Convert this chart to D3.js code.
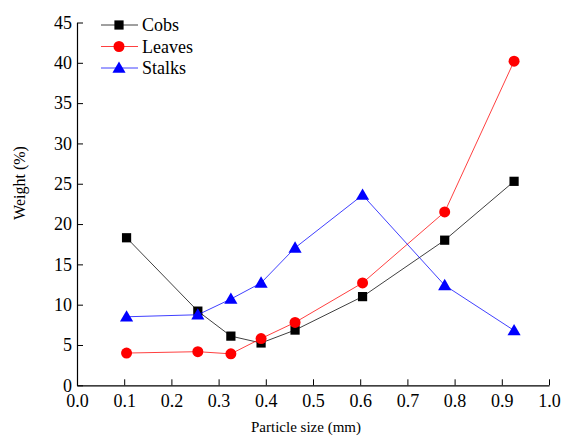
<!DOCTYPE html>
<html>
<head>
<meta charset="utf-8">
<script src="https://cdn.jsdelivr.net/npm/d3@7"></script>
<style>
  html, body { margin: 0; padding: 0; background: #fff; }
  svg { display: block; }
  text { font-family: "Liberation Serif", "Times New Roman", serif; fill: #000; }
</style>
</head>
<body>
<svg id="chart" width="565" height="436"></svg>
<script>
// Data
const particleSize = [0.105, 0.256, 0.326, 0.39, 0.462, 0.605, 0.779, 0.926];
const cobs   = [18.3, 9.2, 6.1, 5.25, 6.85, 11.0, 18.0, 25.3];
const leaves = [4.0, 4.17, 3.9, 5.8, 7.8, 12.7, 21.5, 40.2];
const stalks = [8.5, 8.75, 10.7, 12.7, 17.05, 23.6, 12.4, 6.8];
const seriesNames = ["Cobs", "Leaves", "Stalks"];
const seriesColors = ["#000000", "#ff0000", "#0000ff"];
const seriesMarkers = ["square", "circle", "triangle"];
const xTicks = [0.0, 0.1, 0.2, 0.3, 0.4, 0.5, 0.6, 0.7, 0.8, 0.9, 1.0];
const yTicks = [0, 5, 10, 15, 20, 25, 30, 35, 40, 45];
const xTitle = "Particle size (mm)";
const yTitle = "Weight (%)";

const seriesValues = [cobs, leaves, stalks];

const svg = d3.select("#chart");
const mLeft = 77, mRight = 549, mTop = 22.5, mBottom = 385.3;

const x = d3.scaleLinear().domain([0, 1]).range([mLeft, mRight]);
const y = d3.scaleLinear().domain([0, 45]).range([mBottom, mTop]);

// Axes (ticks pointing inward)
const xAxis = d3.axisBottom(x).tickValues(xTicks).tickFormat(d3.format(".1f"))
  .tickSizeInner(-6).tickSizeOuter(0).tickPadding(12);
const yAxis = d3.axisLeft(y).tickValues(yTicks).tickFormat(d3.format("d"))
  .tickSizeInner(-6).tickSizeOuter(0).tickPadding(5);

const gx = svg.append("g").attr("transform", `translate(0,${mBottom})`).call(xAxis);
const gy = svg.append("g").attr("transform", `translate(${mLeft},0)`).call(yAxis);
[gx, gy].forEach(g => {
  g.attr("font-family", null);
  g.select(".domain").attr("stroke", "#000").attr("stroke-width", 1.2);
  g.selectAll(".tick line").attr("stroke", "#000").attr("stroke-width", 1);
  g.selectAll(".tick text").style("font-family", "'Liberation Serif', serif")
    .style("font-size", "18px").attr("fill", "#000");
});
gy.selectAll(".tick text").attr("dy", "0.32em");
gx.selectAll(".tick text").attr("dy", "0.71em").attr("y", 9);

// Titles
svg.append("text").attr("x", 306).attr("y", 432).attr("text-anchor", "middle")
  .style("font-size", "15px").text(xTitle);
svg.append("text").attr("transform", "translate(25,183) rotate(-90)")
  .attr("text-anchor", "middle").style("font-size", "16px").text(yTitle);

// Marker drawing
const symbolFor = {
  square: d3.symbol().type(d3.symbolSquare).size(85),
  circle: d3.symbol().type(d3.symbolCircle).size(95),
  triangle: d3.symbol().type(d3.symbolTriangle).size(75)
};

const line = d3.line().x(d => x(d[0])).y(d => y(d[1]));

seriesValues.forEach((vals, i) => {
  const pts = particleSize.map((p, j) => [p, vals[j]]);
  const g = svg.append("g");
  g.append("path").datum(pts).attr("d", line).attr("fill", "none")
    .attr("stroke", seriesColors[i]).attr("stroke-width", 1).attr("stroke-opacity", 0.75);
  g.selectAll("path.m").data(pts).enter().append("path").attr("class", "m")
    .attr("d", symbolFor[seriesMarkers[i]])
    .attr("transform", d => `translate(${x(d[0])},${y(d[1]) + (seriesMarkers[i] === "triangle" ? 1 : 0)})`)
    .attr("fill", seriesColors[i]);
});

// Legend
const legendY = [25, 46.5, 68];
seriesNames.forEach((name, i) => {
  const g = svg.append("g");
  g.append("line").attr("x1", 101).attr("x2", 138).attr("y1", legendY[i]).attr("y2", legendY[i])
    .attr("stroke", seriesColors[i]).attr("stroke-width", 1).attr("stroke-opacity", 0.75);
  g.append("path").attr("d", symbolFor[seriesMarkers[i]])
    .attr("transform", `translate(119,${legendY[i] + (seriesMarkers[i] === "triangle" ? 1 : 0)})`)
    .attr("fill", seriesColors[i]);
  g.append("text").attr("x", 142).attr("y", legendY[i]).attr("dy", "0.35em")
    .style("font-size", "18px").text(name);
});
</script>
</body>
</html>
